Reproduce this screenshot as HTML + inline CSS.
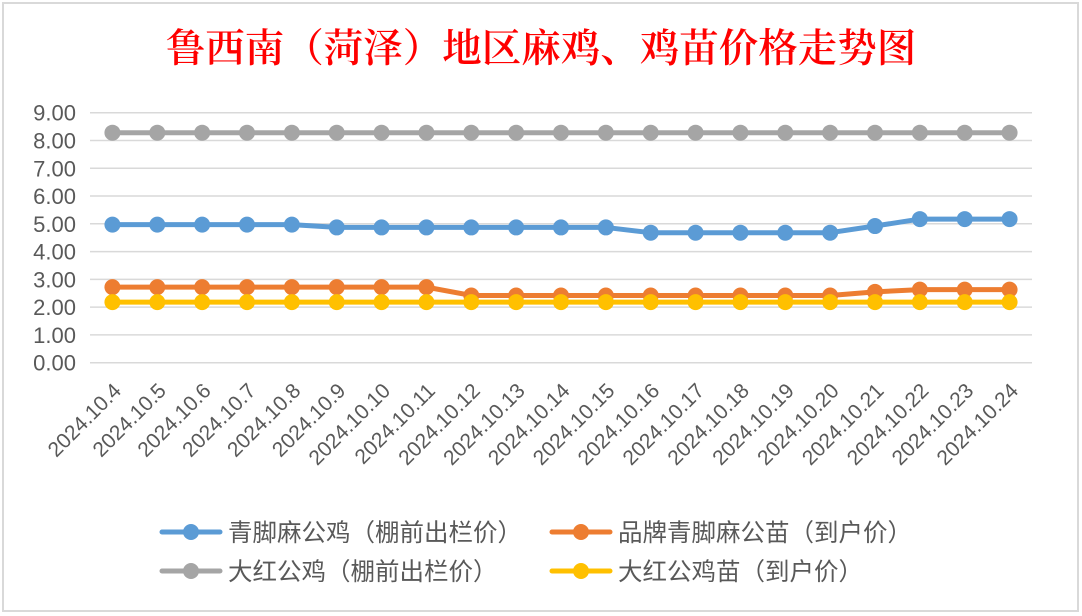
<!DOCTYPE html>
<html><head><meta charset="utf-8"><style>
body{margin:0;background:#fff;}
svg{display:block;font-family:"Liberation Sans","Noto Sans CJK SC",sans-serif;}
</style></head><body>
<svg id="chart" width="1082" height="616">
<rect x="3" y="3" width="1075" height="608" fill="#fff" stroke="#d9d9d9" stroke-width="2"/>
<text x="541" y="62" text-anchor="middle" font-family="'Liberation Serif','Noto Serif CJK SC',serif" font-size="39.5" font-weight="600" fill="#ff0000">鲁西南（菏泽）地区麻鸡、鸡苗价格走势图</text>
<g id="grid"></g><g id="yax"></g><g id="xax"></g><g id="series"></g><g id="legend"></g>
</svg>
<script>
const categories=["2024.10.4","2024.10.5","2024.10.6","2024.10.7","2024.10.8","2024.10.9","2024.10.10","2024.10.11","2024.10.12","2024.10.13","2024.10.14","2024.10.15","2024.10.16","2024.10.17","2024.10.18","2024.10.19","2024.10.20","2024.10.21","2024.10.22","2024.10.23","2024.10.24"];
const blueValues=[4.97,4.97,4.97,4.97,4.97,4.87,4.87,4.87,4.87,4.87,4.87,4.87,4.68,4.68,4.68,4.68,4.68,4.92,5.17,5.17,5.17];
const orangeValues=[2.72,2.72,2.72,2.72,2.72,2.72,2.72,2.72,2.42,2.42,2.42,2.42,2.42,2.42,2.42,2.42,2.42,2.55,2.63,2.63,2.63];
const grayValues=[8.28,8.28,8.28,8.28,8.28,8.28,8.28,8.28,8.28,8.28,8.28,8.28,8.28,8.28,8.28,8.28,8.28,8.28,8.28,8.28,8.28];
const yellowValues=[2.18,2.18,2.18,2.18,2.18,2.18,2.18,2.18,2.18,2.18,2.18,2.18,2.18,2.18,2.18,2.18,2.18,2.18,2.18,2.18,2.18];
const yTicks=[0,1,2,3,4,5,6,7,8,9];
const seriesNames=["青脚麻公鸡（棚前出栏价）","品牌青脚麻公苗（到户价）","大红公鸡（棚前出栏价）","大红公鸡苗（到户价）"];

const NS="http://www.w3.org/2000/svg";
const L=90,R=1032,T=112.7,B=362.7,YMAX=9;
const bw=(R-L)/categories.length;
const x=i=>L+bw*(i+0.5);
const y=v=>B-(v/YMAX)*(B-T);
function mk(tag,attrs,parent){const e=document.createElementNS(NS,tag);for(const k in attrs)e.setAttribute(k,attrs[k]);parent.appendChild(e);return e;}
const grid=document.getElementById('grid'),yax=document.getElementById('yax'),xax=document.getElementById('xax');
yTicks.forEach(t=>{
 const ln=mk('line',{x1:L,x2:R,y1:y(t),y2:y(t),stroke:'#d9d9d9','stroke-width':1.5},grid);
 
 
 const tx=mk('text',{x:76,y:y(t)+8,'text-anchor':'end','font-size':22,fill:'#595959'},yax);
 tx.textContent=t.toFixed(2);
 
 
});
categories.forEach((c,i)=>{
 const ax=x(i)+10,ay=392;
 const tx=mk('text',{x:ax,y:ay,'text-anchor':'end','font-size':21,fill:'#595959',transform:`rotate(-45 ${ax} ${ay})`},xax);
 tx.textContent=c;
 
 
});
const series=[[blueValues,'#5b9bd5'],[orangeValues,'#ed7d31'],[grayValues,'#a5a5a5'],[yellowValues,'#ffc000']];
const order=[2,0,1,3];
const sg=document.getElementById('series');
order.forEach(si=>{
 const [vals,col]=series[si];
 const g=mk('g',{},sg);
 
 
 const pl=mk('polyline',{points:vals.map((v,i)=>x(i)+','+y(v)).join(' '),fill:'none',stroke:col,'stroke-width':5,'stroke-linejoin':'round'},g);
 
 
 vals.forEach((v,i)=>{
  const c=mk('circle',{cx:x(i),cy:y(v),r:8,fill:col},g);
  
  
 });
});
const lg=document.getElementById('legend');
const lpos=[[162,532],[552,532],[162,571],[552,571]];
const lcols=['#5b9bd5','#ed7d31','#a5a5a5','#ffc000'];
seriesNames.forEach((n,i)=>{
 const [lx,ly]=lpos[i];
 const g=mk('g',{},lg);
 
 
 mk('line',{x1:lx,x2:lx+58,y1:ly,y2:ly,stroke:lcols[i],'stroke-width':5,'stroke-linecap':'round'},g);
 mk('circle',{cx:lx+29,cy:ly,r:8,fill:lcols[i]},g);
 const t=mk('text',{x:lx+66,y:ly+9,'font-size':24.5,fill:'#595959'},g);
 t.textContent=n;
});
</script>
</body></html>
